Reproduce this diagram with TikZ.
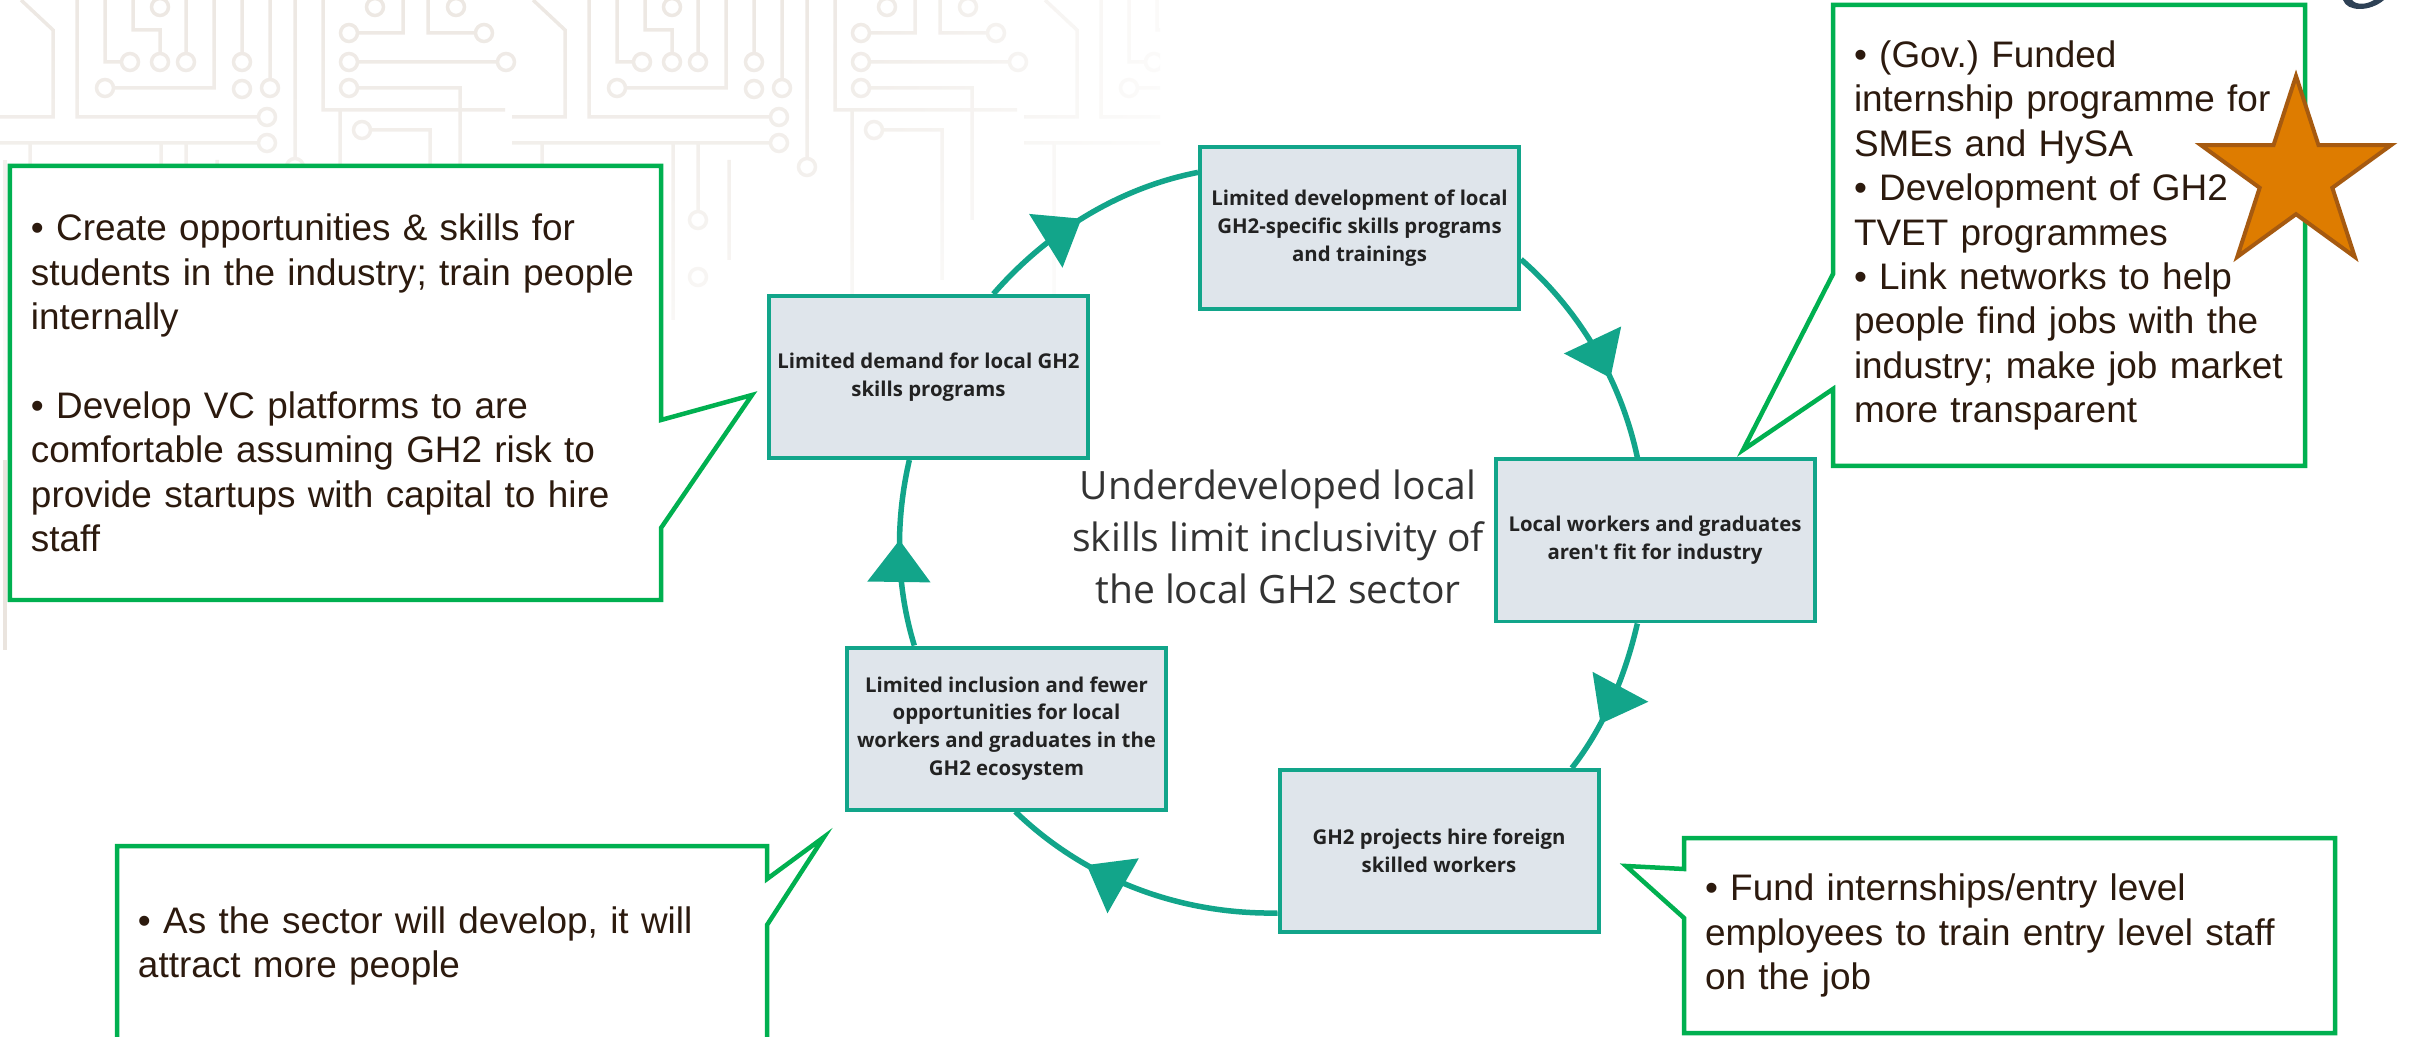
\documentclass[tikz,border=0pt]{standalone}
\usepackage{fontspec}
\setmainfont{Liberation Sans}
\newfontfamily\boxfont{Open Sans}
\usepackage{tikz}
\usetikzlibrary{positioning}
\usetikzlibrary{calc}
\usetikzlibrary{arrows.meta}
\usetikzlibrary{decorations.markings}
\usetikzlibrary{shapes.geometric}
\usetikzlibrary{fadings}
\frenchspacing
\definecolor{cycteal}{HTML}{12A58A}
\definecolor{boxfill}{HTML}{DFE5EB}
\definecolor{boxtext}{HTML}{222222}
\definecolor{midtext}{HTML}{333333}
\definecolor{callgreen}{HTML}{00B050}
\definecolor{calltext}{HTML}{2C1A0E}
\definecolor{starfill}{HTML}{DE7C00}
\definecolor{starline}{HTML}{A65A10}
\definecolor{circuit}{HTML}{EAE4DE}
\definecolor{corner}{HTML}{2E4155}
\tikzfading[name=circuit fade, top color=transparent!100, bottom color=transparent!0]
\tikzfading[name=circuit fade east, left color=transparent!100, right color=transparent!0]
\tikzset{
    skills cycle/.style={
            box/.style={draw=cycteal, fill=boxfill, line width=0.04cm, minimum width=3.19cm,
                    minimum height=1.62cm, inner sep=0pt, align=center, text=boxtext,
                    font=\boxfont\bfseries\fontsize{5.8}{7.9}\selectfont},
            arc/.style={cycteal, line width=0.055cm, looseness=0.87, postaction={decorate}},
            mid tip/.style={decoration={markings,
                    mark=at position ##1 with {\arrow{Triangle[length=0.42cm, width=0.62cm]}}}},
            note/.style={fill=white, inner xsep=0.21cm, inner ysep=0pt, outer sep=0pt,
                    align=left, text=calltext, font=\fontsize{10.5}{12.62}\selectfont},
            pointer/.style={draw=callgreen, line width=0.045cm, line join=miter},
            trace/.style={draw=circuit, line width=0.035cm},
            pad/.style={draw=circuit, fill=white, line width=0.035cm}
        }
    }

\begin{document}
\begin{tikzpicture}[skills cycle]
        \useasboundingbox (0,0) rectangle (24.10,-10.37);

        % faint circuit background
        \begin{scope}
            \clip (0,0) rectangle (11.6,-7);
            \foreach \t in {0,5.12,10.24} {
                \begin{scope}[shift={(\t,0)}]
                    \draw [trace] (0.21,0) -- (0.53,-0.3) -- (0.53,-1.17) -- (0,-1.17)
                        (0.77,0) -- (0.77,-1.17) -- (2.58,-1.17)
                        (0,-1.43) -- (2.58,-1.43)
                        (1.05,0) -- (1.05,-0.62) -- (1.22,-0.62)
                        (1.33,0) -- (1.33,-0.30) -- (1.60,-0.30) -- (1.60,-0.54)
                        (1.86,0) -- (1.86,-0.54)
                        (1.13,-0.88) -- (2.14,-0.88) -- (2.14,0)
                        (2.42,0) -- (2.42,-0.54)
                        (2.70,0) -- (2.70,-0.80)
                        (2.95,0) -- (2.95,-1.59)
                        (3.23,0) -- (3.23,-1.10) -- (5.05,-1.10)
                        (3.57,-0.33) -- (4.03,-0.33) -- (4.03,0)
                        (3.57,-0.62) -- (4.98,-0.62)
                        (3.57,-0.88) -- (4.60,-0.88) -- (4.60,-2.2)
                        (4.28,0) -- (4.28,-0.33) -- (4.76,-0.33)
                        (1.61,-1.43) -- (1.61,-3.2)
                        (1.86,-1.43) -- (1.86,-2.12)
                        (2.17,-1.6) -- (2.17,-2.6)
                        (0.30,-1.43) -- (0.30,-3.5)
                        (3.40,-1.10) -- (3.40,-3.0)
                        (3.70,-1.3) -- (4.3,-1.3) -- (4.3,-2.8);
                    \foreach \p in {(2.67,-1.17),(2.67,-1.43),(1.30,-0.62),(1.60,-0.07),(1.60,-0.62),
                            (1.86,-0.62),(1.05,-0.88),(2.42,-0.62),(2.42,-0.89),(2.70,-0.88),(3.49,-0.33),
                            (3.49,-0.62),(3.49,-0.88),(3.75,-0.07),(4.84,-0.33),(5.06,-0.62),(4.56,-0.07),
                            (2.95,-1.67),(1.86,-2.2),(1.86,-2.77),(3.62,-1.3)}
                        \draw [pad] \p circle [radius=0.085];
                \end{scope}
            }
            \draw [trace] (0.05,-1.6) -- (0.05,-6.5);
        \end{scope}
        \fill [white, path fading=circuit fade] (-0.1,0.8) rectangle (11.7,-4.6);
        \fill [white, path fading=circuit fade east] (8.0,0.1) rectangle (12.5,-7);

        % cycle
        \node (O) [align=center, text=midtext, font=\boxfont\fontsize{11.1}{14.7}\selectfont]
            at (12.78,-5.37) {Underdeveloped local\\skills limit inclusivity of\\the local GH2 sector};

        \node (Dem) [box] at (9.285,-3.77) {Limited demand for local GH2\\skills programs};
        \node (Dev) [box] at (13.595,-2.28) {Limited development of local\\GH2-specific skills programs\\and trainings};
        \node (Loc) [box] at (16.55,-5.405) {Local workers and graduates\\aren't fit for industry};
        \node (Pro) [box] at (14.39,-8.51) {GH2 projects hire foreign\\skilled workers};
        \node (Inc) [box] at (10.065,-7.285) {Limited inclusion and fewer\\opportunities for local\\workers and graduates in the\\GH2 ecosystem};

        \draw [arc, mid tip=0.48] (Dem.52) to [out=49, in=191] (Dev.161);
        \draw [arc, mid tip=0.64] (Dev.349) to [out=-41, in=102] (Loc.102);
        \draw [arc, mid tip=0.67, looseness=0.86] (Loc.258) to [out=-103, in=52] (Pro.32);
        \draw [arc, mid tip=0.69, looseness=0.89] (Pro.201) to [out=181, in=316] (Inc.276);
        \draw [arc, mid tip=0.57] (Inc.138) to [out=107, in=257] (Dem.257);

        % callouts
        \node (CL) [note, text width=6.09cm, minimum height=4.34cm] at (3.355,-3.83)
            {• Create opportunities \& skills for\\students in the industry; train people\\internally\\~\\• Develop VC platforms to are\\comfortable assuming GH2 risk to\\provide startups with capital to hire\\staff};
        \coordinate (CLtip) at (7.52,-3.95);
        \draw [pointer] (CL.north west) -- (CL.north east) -- ([yshift=-2.54cm]CL.north east) -- (CLtip)
            -- ([yshift=-3.62cm]CL.north east) -- (CL.south east) -- (CL.south west) -- cycle;

        \node (CR) [note, text width=4.30cm, minimum height=4.61cm] at (20.69,-2.355)
            {• (Gov.) Funded\\internship programme for\\SMEs and HySA\\• Development of GH2\\TVET programmes\\• Link networks to help\\people find jobs with the\\industry; make job market\\more transparent};
        \coordinate (CRtip) at (17.43,-4.50);
        \draw [pointer] (CR.north west) -- (CR.north east) -- (CR.south east) -- (CR.south west)
            -- ([yshift=-3.84cm]CR.north west) -- (CRtip) -- ([yshift=-2.69cm]CR.north west) -- cycle;

        \node (CBR) [note, text width=6.09cm, minimum height=1.95cm] at (20.095,-9.355)
            {• Fund internships/entry level\\employees to train entry level staff\\on the job};
        \coordinate (CBRtip) at (16.26,-8.66);
        \draw [pointer] (CBR.north west) -- (CBR.north east) -- (CBR.south east) -- (CBR.south west)
            -- ([yshift=-0.80cm]CBR.north west) -- (CBRtip) -- ([yshift=-0.31cm]CBR.north west) -- cycle;

        \node (CBL) [note, text width=6.08cm, minimum height=2.0cm] at (4.42,-9.46)
            {• As the sector will develop, it will\\attract more people};
        \coordinate (CBLtip) at (8.24,-8.37);
        \draw [pointer] (CBL.north west) -- (CBL.north east) -- ([yshift=-0.33cm]CBL.north east) -- (CBLtip)
            -- ([yshift=-0.79cm]CBL.north east) -- (CBL.south east) -- (CBL.south west) -- cycle;

        \node (Star) [star, star points=5, star point ratio=2.618, minimum size=2.0cm, inner sep=0pt,
            fill=starfill, draw=starline, line width=0.04cm] at (22.96,-1.76) {};

        \fill [corner] (23.43,0) .. controls (23.47,-0.12) and (23.70,-0.12) .. (23.84,0)
            -- (23.74,0) .. controls (23.66,-0.05) and (23.56,-0.05) .. (23.52,0) -- cycle;
    \end{tikzpicture}
\end{document}
